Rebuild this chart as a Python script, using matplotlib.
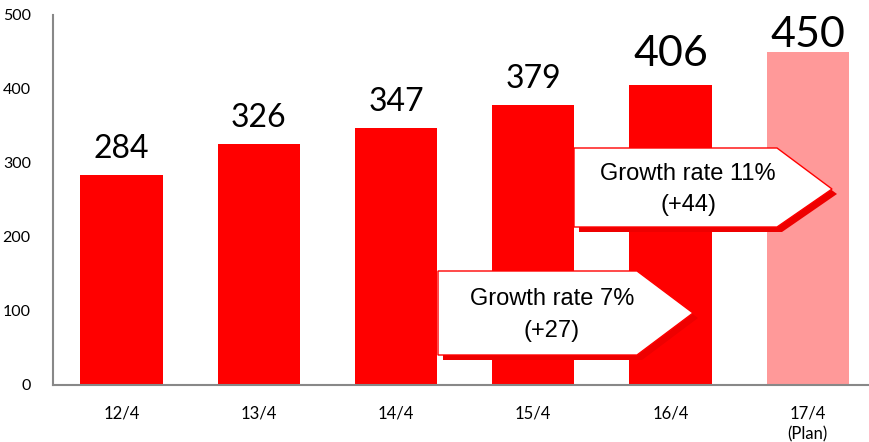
import matplotlib.pyplot as plt
from matplotlib.patches import Polygon

periods = ["12/4", "13/4", "14/4", "15/4", "16/4", "17/4\n(Plan)"]
values = [284, 326, 347, 379, 406, 450]
colors = ["#ff0000"] * 5 + ["#ff9999"]
label_sizes = [23, 23, 23, 23, 31, 31]
label_gaps = [17, 17, 17, 17, 19, 5]   # pixels between bar top and baseline

W, H = 869, 442
fig = plt.figure(figsize=(W / 100, H / 100), dpi=100)
ax = fig.add_axes([53 / W, 57 / H, 816 / W, 370 / H])

x = range(len(values))
ax.bar(x, values, width=0.6, color=colors)
for i, v in enumerate(values):
    ax.annotate(str(v), (i, v), xytext=(0, label_gaps[i] * 0.72),
                textcoords="offset points", ha="center", va="baseline",
                fontsize=label_sizes[i], family="Lato", annotation_clip=False)

ax.set_xlim(-0.5, 5.447)
ax.set_ylim(0, 500)
ax.set_yticks(range(0, 501, 100))
ax.set_xticks(list(x))
ax.set_xticklabels(periods, fontsize=12, family="Lato", va="top",
                   linespacing=1.35)
ax.tick_params(axis="y", length=0, pad=16, labelsize=11.5)
ax.tick_params(axis="x", length=0, pad=15)
for t in ax.get_yticklabels():
    t.set_family("Lato")
for s in ["top", "right"]:
    ax.spines[s].set_visible(False)
for s in ["left", "bottom"]:
    ax.spines[s].set_color("#888888")
    ax.spines[s].set_linewidth(1.5)


def px(pts, dx=0, dy=0):
    return [((a + dx) / W, 1 - (b + dy) / H) for a, b in pts]


def callout(pts, lines, cx, ys):
    shadow = Polygon(px(pts, 5, 5), closed=True, transform=fig.transFigure,
                     facecolor="#ee0000", edgecolor="none", zorder=5)
    body = Polygon(px(pts), closed=True, transform=fig.transFigure,
                   facecolor="white", edgecolor="#ff0000", linewidth=1, zorder=6)
    fig.patches.extend([shadow, body])
    for txt, y in zip(lines, ys):
        fig.text(cx / W, 1 - y / H, txt, ha="center", va="center",
                 fontsize=17, family="Liberation Sans", zorder=7)


callout([(438, 271), (637, 271), (693, 313), (637, 355), (438, 355)],
        ["Growth rate 7%", "(+27)"], 552, [299, 331])
callout([(574, 148), (777, 148), (832, 189), (777, 227), (574, 227)],
        ["Growth rate 11%", "(+44)"], 688, [174, 205])

fig.savefig("out.png", dpi=100)
